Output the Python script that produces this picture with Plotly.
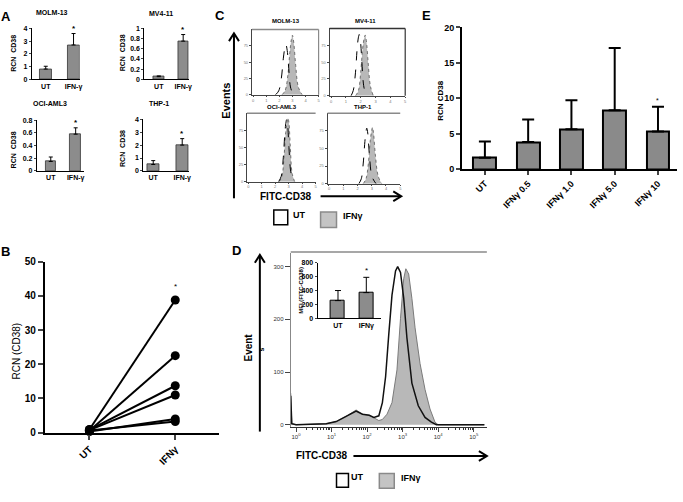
import numpy as np
import plotly.graph_objects as go

W, H = 683, 502
def px(x): return x / W
def py(y): return 1 - y / H

FONT = "Liberation Sans"

# ---------------- DATA ----------------
# Panel A
A_CATS = ["UT", "IFN-γ"]
A_MOLM13 = [0.8, 2.7];   A_MOLM13_ERR = [0.22, 0.9]
A_MV411 = [0.05, 0.75];  A_MV411_ERR = [0.015, 0.13]
A_OCI = [0.15, 0.58];    A_OCI_ERR = [0.07, 0.1]
A_THP1 = [0.5, 2.0];     A_THP1_ERR = [0.3, 0.5]

# Panel B (paired samples)
B_CATS = ["UT", "IFNγ"]
B_UT = [0.9, 0.5, 0.8, 0.7, 0.3, 0.6]
B_IFN = [38.8, 22.5, 13.7, 11.0, 4.0, 3.2]

# Panel C (log10 FITC-CD38, % of max events)
C1_UT_X = [1.7, 1.95, 2.15, 2.3, 2.42, 2.5, 2.6, 2.72, 2.85, 3.05]
C1_UT_Y = [0, 6, 25, 55, 72, 77, 68, 40, 12, 0]
C1_IFN_X = [2.2, 2.45, 2.65, 2.8, 2.92, 3.0, 3.1, 3.25, 3.45, 3.75]
C1_IFN_Y = [0, 7, 30, 65, 85, 91, 80, 45, 12, 0]
C2_UT_X = [1.35, 1.5, 1.65, 1.76, 1.84, 1.9, 1.98, 2.08, 2.2, 2.35]
C2_UT_Y = [0, 8, 35, 70, 86, 91, 82, 50, 15, 0]
C2_IFN_X = [1.65, 1.85, 2.0, 2.13, 2.23, 2.3, 2.38, 2.5, 2.65, 2.85]
C2_IFN_Y = [0, 8, 35, 70, 85, 90, 82, 50, 15, 0]
C3_UT_X = [2.25, 2.45, 2.6, 2.72, 2.8, 2.85, 2.92, 3.02, 3.18, 3.4]
C3_UT_Y = [0, 8, 35, 72, 87, 91, 84, 50, 12, 0]
C3_IFN_X = [2.3, 2.5, 2.65, 2.78, 2.89, 2.95, 3.02, 3.12, 3.26, 3.45]
C3_IFN_Y = [0, 8, 35, 72, 88, 93, 86, 52, 12, 0]
C4_UT_X = [2.1, 2.27, 2.4, 2.52, 2.6, 2.65, 2.72, 2.84, 3.02, 3.3]
C4_UT_Y = [0, 7, 28, 60, 74, 79, 72, 40, 10, 0]
C4_IFN_X = [2.4, 2.6, 2.76, 2.9, 3.0, 3.05, 3.12, 3.25, 3.45, 3.7]
C4_IFN_Y = [0, 7, 28, 62, 76, 80, 73, 42, 11, 0]
C_TITLES = ["MOLM-13", "MV4-11", "OCI-AML3", "THP-1"]

# Panel D (log10 FITC-CD38, events)
D_UT_LOG = [-0.15, -0.12, 0.0, 0.85, 1.13, 1.41, 1.69, 1.87, 2.06, 2.19, 2.33, 2.43, 2.52,
            2.61, 2.70, 2.80, 2.86, 2.94, 3.03, 3.12, 3.26, 3.44, 3.63, 3.81, 3.95, 5.3]
D_UT_CNT = [55, 2, 0, 2, 6, 16, 26, 20, 18, 14, 17, 42, 91,
            172, 246, 292, 300, 289, 240, 165, 79, 36, 14, 5, 0, 0]
D_IFN_LOG = [-0.15, -0.12, 0.0, 0.85, 1.13, 1.41, 1.69, 1.87, 2.06, 2.19, 2.33, 2.43, 2.56,
             2.70, 2.84, 2.94, 3.03, 3.09, 3.17, 3.26, 3.35, 3.49, 3.63, 3.77, 3.91, 4.0, 5.3]
D_IFN_CNT = [60, 2, 0, 2, 6, 16, 28, 20, 18, 13, 8, 10, 20,
             42, 104, 202, 277, 296, 286, 240, 184, 116, 67, 30, 5, 0, 0]
D_DECADES = [0, 1, 2, 3, 4, 5]
D_DECADE_LABELS = ["10<sup>0</sup>", "10<sup>1</sup>", "10<sup>2</sup>",
                   "10<sup>3</sup>", "10<sup>4</sup>", "10<sup>5</sup>"]
D_INSET_CATS = ["UT", "IFNγ"]
D_INSET_MFI = [255, 370]
D_INSET_ERR = [145, 220]

# Panel E
E_CATS = ["UT", "IFNγ 0.5", "IFNγ 1.0", "IFNγ 5.0", "IFNγ 10"]
E_VALS = [1.6, 3.8, 5.6, 8.3, 5.3]
E_ERR = [2.3, 3.2, 4.1, 8.8, 3.5]

# ---------------- FIGURE ----------------
fig = go.Figure()
layout = {}
annotations = []
shapes = []

def ax_names(n):
    if n == 1:
        return "xaxis", "yaxis", "x", "y"
    return f"xaxis{n}", f"yaxis{n}", f"x{n}", f"y{n}"

def txt(x, y, s, size, bold=True, angle=0, color="black", xanchor="center"):
    annotations.append(dict(x=px(x), y=py(y), xref="paper", yref="paper",
                            text=(f"<b>{s}</b>" if bold else s), showarrow=False,
                            textangle=angle, xanchor=xanchor, yanchor="middle",
                            font=dict(family=FONT, size=size, color=color)))

def line(x0, y0, x1, y1, color="black", width=2):
    shapes.append(dict(type="line", xref="paper", yref="paper",
                       x0=px(x0), y0=py(y0), x1=px(x1), y1=py(y1),
                       line=dict(color=color, width=width)))

def path(pts, color="black", width=2):
    d = "M " + " L ".join(f"{px(a):.5f},{py(b):.5f}" for a, b in pts)
    shapes.append(dict(type="path", xref="paper", yref="paper", path=d,
                       line=dict(color=color, width=width)))

def rect(x0, y0, x1, y1, fill, color, width=1.5):
    shapes.append(dict(type="rect", xref="paper", yref="paper",
                       x0=px(x0), y0=py(y1), x1=px(x1), y1=py(y0),
                       fillcolor=fill, line=dict(color=color, width=width)))

def bold_labels(cats):
    return [f"<b>{c}</b>" for c in cats]

# ---- Panel A ----
A_SPECS = [
    (1, A_MOLM13, A_MOLM13_ERR, (32, 80), (75, 23), [-0.5, 1.22], [0, 4], 1, "MOLM-13", (52, 7), (14, 48)),
    (2, A_MV411, A_MV411_ERR, (145, 190), (75, 23), [-0.59, 1.245], [0, 1], 0.2, "MV4-11", (162, 8), (123, 48)),
    (3, A_OCI, A_OCI_ERR, (37, 84), (169, 117), [-0.56, 1.32], [0, 0.8], 0.2, "OCI-AML3", (50, 100), (14, 147)),
    (4, A_THP1, A_THP1_ERR, (144, 190), (169, 116), [-0.34, 1.24], [0, 4], 1, "THP-1", (160, 100), (123, 146)),
]
for n, vals, errs, xd, yd, xr, yr, dt, title, tpos, lpos in A_SPECS:
    xa, ya, xr_, yr_ = ax_names(n)
    fig.add_trace(go.Bar(x=A_CATS, y=vals, width=0.43, xaxis=xr_, yaxis=yr_,
                         marker=dict(color="#8c8c8c", line=dict(color="#333333", width=0.8)),
                         error_y=dict(type="data", array=errs, arrayminus=[0, 0], symmetric=False,
                                      color="black", thickness=1, width=2)))
    layout[xa] = dict(domain=[px(xd[0]), px(xd[1])], range=xr, anchor=yr_, showline=True,
                      linecolor="black", linewidth=1, ticks="", showgrid=False,
                      tickvals=A_CATS, ticktext=bold_labels(A_CATS),
                      tickfont=dict(family=FONT, size=7, color="black"))
    layout[ya] = dict(domain=[py(yd[0]), py(yd[1])], range=yr, dtick=dt, anchor=xr_,
                      showline=True, linecolor="black", linewidth=1, ticks="outside",
                      ticklen=2, showgrid=False, zeroline=False,
                      tickfont=dict(family=FONT, size=7, color="black", weight="bold"))
    txt(tpos[0], tpos[1], title, 7)
    txt(lpos[0], lpos[1], "RCN  CD38", 7, angle=-90)
    annotations.append(dict(x=A_CATS[1], y=vals[1] + errs[1], xref=xr_, yref=yr_, text="<b>*</b>",
                            showarrow=False, yanchor="bottom", yshift=-1,
                            font=dict(family=FONT, size=8, color="black")))

# ---- Panel B ----
xa, ya, xr_, yr_ = ax_names(5)
for u, v in zip(B_UT, B_IFN):
    fig.add_trace(go.Scatter(x=B_CATS, y=[u, v], mode="lines+markers", xaxis=xr_, yaxis=yr_,
                             line=dict(color="black", width=2),
                             marker=dict(color="black", size=9), cliponaxis=False))
layout[xa] = dict(domain=[px(45), px(220)], range=[-0.52, 1.51], anchor=yr_, showline=True,
                  linecolor="black", linewidth=2, ticks="outside", ticklen=5, tickwidth=2,
                  tickangle=-45, showgrid=False,
                  tickvals=B_CATS, ticktext=bold_labels(B_CATS),
                  tickfont=dict(family=FONT, size=10, color="black"))
layout[ya] = dict(domain=[py(437), py(262)], range=[0, 50], dtick=10, anchor=xr_, showline=True,
                  linecolor="black", linewidth=2, ticks="outside", ticklen=5, tickwidth=2,
                  showgrid=False, zeroline=False,
                  tickfont=dict(family=FONT, size=10, color="black", weight="bold"))
txt(17, 353, "RCN (CD38)", 10, bold=False, angle=-90)
annotations.append(dict(x=B_CATS[1], y=max(B_IFN), xref=xr_, yref=yr_, text="*", showarrow=False,
                        yanchor="bottom", yshift=7, font=dict(family=FONT, size=8, color="black")))

# ---- Panel C ----
C_SPECS = [
    (6, C1_UT_X, C1_UT_Y, C1_IFN_X, C1_IFN_Y, (253, 320), (91, 24), "#8a8a8a", (287, 15)),
    (7, C2_UT_X, C2_UT_Y, C2_IFN_X, C2_IFN_Y, (331, 407), (92, 23), "#333333", (367, 15)),
    (8, C3_UT_X, C3_UT_Y, C3_IFN_X, C3_IFN_Y, (248, 317), (180, 110), "#8a8a8a", (283, 103)),
    (9, C4_UT_X, C4_UT_Y, C4_IFN_X, C4_IFN_Y, (329, 402), (182, 110), "#8a8a8a", (365, 103)),
]
for (n, ux, uy, ix, iy, xd, yd, fc, tpos), title in zip(C_SPECS, C_TITLES):
    xa, ya, xr_, yr_ = ax_names(n)
    fig.add_trace(go.Scatter(x=ix, y=iy, mode="lines", fill="tozeroy", fillcolor="#b8b8b8",
                             line=dict(color="#555555", width=0.8, dash="dot", shape="spline"),
                             xaxis=xr_, yaxis=yr_))
    fig.add_trace(go.Scatter(x=ux, y=uy, mode="lines",
                             line=dict(color="black", width=1, dash="dash", shape="spline"),
                             xaxis=xr_, yaxis=yr_))
    layout[xa] = dict(domain=[px(xd[0]), px(xd[1])], range=[-0.1, 5], anchor=yr_, showline=True,
                      linecolor="#444444", linewidth=1, mirror=False, ticks="outside", ticklen=1,
                      tickvals=[0, 1, 2, 3, 4, 5], showgrid=False, zeroline=False,
                      tickfont=dict(family=FONT, size=4, color="#777777"))
    layout[ya] = dict(domain=[py(yd[0]), py(yd[1])], range=[0, 100], anchor=xr_, showline=True,
                      linecolor="#444444", linewidth=1, ticks="outside", ticklen=2,
                      tickvals=[0, 25, 50, 75], showgrid=False, zeroline=False,
                      tickfont=dict(family=FONT, size=4, color="#777777"))
    line(xd[0], yd[1], xd[1], yd[1], color=fc, width=1.5)
    if n in (6, 7):
        line(xd[1], yd[1], xd[1], yd[0], color=fc, width=1.2)
    txt(tpos[0], tpos[1], title, 6)

# C decorations
txt(227, 97, "Events", 11, angle=-90)
line(235, 197, 235, 29)
path([(230, 36), (235, 28), (240, 36)])
txt(287, 195, "FITC-CD38", 10)
line(322, 195, 402, 195)
path([(395, 190), (403, 195), (395, 200)])
rect(275, 209, 289, 224, "white", "black", 1.5)
txt(301, 214, "UT", 9)
rect(322, 211, 338, 227, "#c4c4c4", "#8a8a8a", 1.5)
txt(355, 215, "IFNγ", 9)

# ---- Panel D main ----
xa, ya, xr_, yr_ = ax_names(10)
fig.add_trace(go.Scatter(x=D_IFN_LOG, y=D_IFN_CNT, mode="lines", fill="tozeroy",
                         fillcolor="#b8b8b8", line=dict(color="#7a7a7a", width=1),
                         xaxis=xr_, yaxis=yr_))
fig.add_trace(go.Scatter(x=D_UT_LOG, y=D_UT_CNT, mode="lines",
                         line=dict(color="#111111", width=1.5), xaxis=xr_, yaxis=yr_))
minor_vals = [d + np.log10(k) for d in D_DECADES[:-1] for k in range(2, 10)]
layout[xa] = dict(domain=[px(292), px(489)], range=[-0.15, 5.37], anchor=yr_, showline=True,
                  linecolor="#333333", linewidth=1, ticks="outside", ticklen=4,
                  tickvals=D_DECADES, ticktext=D_DECADE_LABELS, showgrid=False, zeroline=False,
                  minor=dict(tickvals=minor_vals, ticks="outside", ticklen=2, tickcolor="#333333"),
                  tickfont=dict(family=FONT, size=6, color="#333333"))
layout[ya] = dict(domain=[py(431), py(253)], range=[-3.7, 326], anchor=xr_, showline=True,
                  linecolor="#888888", linewidth=1, ticks="outside", ticklen=5,
                  tickvals=[0, 100, 200, 300], showgrid=False, zeroline=False,
                  tickfont=dict(family=FONT, size=6, color="#333333"))
line(292, 252, 489, 252, color="#8a8a8a", width=1.5)

# ---- Panel D inset ----
xa, ya, xr_, yr_ = ax_names(11)
fig.add_trace(go.Bar(x=D_INSET_CATS, y=D_INSET_MFI, width=0.5, xaxis=xr_, yaxis=yr_,
                     marker=dict(color="#8c8c8c", line=dict(color="black", width=1)),
                     error_y=dict(type="data", array=D_INSET_ERR, arrayminus=[0, 0],
                                  symmetric=False, color="black", thickness=1, width=3)))
layout[xa] = dict(domain=[px(319), px(383)], range=[-0.72, 1.53], anchor=yr_, showline=True,
                  linecolor="black", linewidth=1, ticks="", showgrid=False,
                  tickvals=D_INSET_CATS, ticktext=bold_labels(D_INSET_CATS),
                  tickfont=dict(family=FONT, size=7, color="black"))
layout[ya] = dict(domain=[py(320), py(263)], range=[0, 800], dtick=200, anchor=xr_,
                  showline=True, linecolor="black", linewidth=1, ticks="outside", ticklen=2,
                  showgrid=False, zeroline=False,
                  tickfont=dict(family=FONT, size=7, color="black", weight="bold"))
txt(302, 291, "MFI (FITC-CD38)", 6, angle=-90)
annotations.append(dict(x=D_INSET_CATS[1], y=D_INSET_MFI[1] + D_INSET_ERR[1], xref=xr_, yref=yr_,
                        text="*", showarrow=False, yanchor="bottom", yshift=0,
                        font=dict(family=FONT, size=8, color="black")))

# D decorations
txt(250, 350, "Event", 10, angle=-90)
txt(263, 352, "s", 7, angle=-90)
line(261, 436, 261, 256)
path([(256, 263), (261, 255), (266, 263)])
txt(323, 461, "FITC-CD38", 10)
line(355, 461, 488, 461)
path([(481, 456), (489, 461), (481, 466)])
rect(338, 479, 350, 493, "white", "black", 1.5)
txt(359, 483, "UT", 9)
rect(381, 479, 396, 494, "#c4c4c4", "#8a8a8a", 1.5)
txt(413, 484, "IFNγ", 9)

# ---- Panel E ----
xa, ya, xr_, yr_ = ax_names(12)
fig.add_trace(go.Bar(x=E_CATS, y=E_VALS, width=0.53, xaxis=xr_, yaxis=yr_,
                     marker=dict(color="#8a8a8a", line=dict(color="black", width=2)),
                     error_y=dict(type="data", array=E_ERR, arrayminus=[0] * len(E_ERR),
                                  symmetric=False, color="black", thickness=2, width=6)))
layout[xa] = dict(domain=[px(464), px(680)], range=[-0.53, 4.44], anchor=yr_, showline=True,
                  linecolor="black", linewidth=2, ticks="outside", ticklen=4, tickwidth=2,
                  tickangle=-45, showgrid=False,
                  tickvals=E_CATS, ticktext=bold_labels(E_CATS),
                  tickfont=dict(family=FONT, size=9, color="black"))
layout[ya] = dict(domain=[py(167), py(22)], range=[0, 20], dtick=5, anchor=xr_, showline=True,
                  linecolor="black", linewidth=2, ticks="outside", ticklen=4, tickwidth=2,
                  showgrid=False, zeroline=False,
                  tickfont=dict(family=FONT, size=9, color="black", weight="bold"))
txt(443, 97, "RCN CD38", 8, angle=-90)
annotations.append(dict(x=E_CATS[4], y=E_VALS[4] + E_ERR[4], xref=xr_, yref=yr_, text="*",
                        showarrow=False, yanchor="bottom", yshift=1,
                        font=dict(family=FONT, size=7, color="black")))

# Panel letters
txt(6, 11, "A", 13)
txt(6, 252, "B", 13)
txt(221, 10, "C", 13)
txt(238, 250, "D", 13)
txt(428, 10, "E", 13)

fig.update_layout(width=W, height=H, margin=dict(l=0, r=0, t=0, b=0),
                  paper_bgcolor="white", plot_bgcolor="rgba(0,0,0,0)", showlegend=False,
                  annotations=annotations, shapes=shapes, bargap=0,
                  font=dict(family=FONT, color="black"), **layout)

fig.write_html("out.html", config={"displayModeBar": False},
               post_script="document.body.style.margin='0px';")
